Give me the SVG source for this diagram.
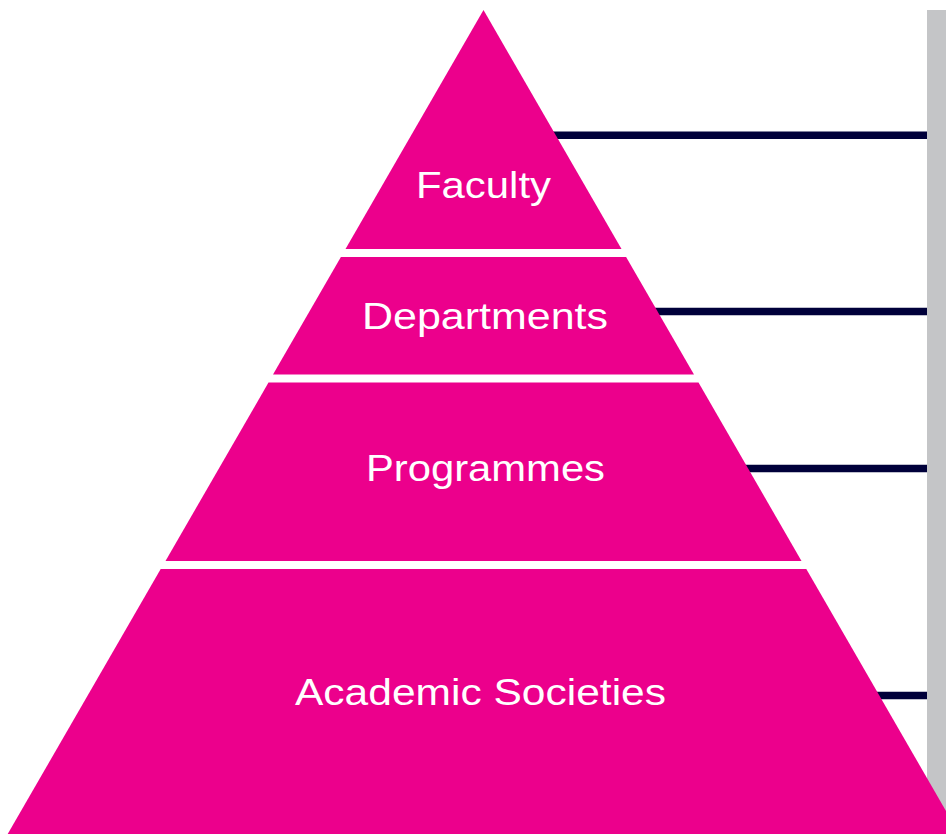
<svg xmlns="http://www.w3.org/2000/svg" width="946" height="834" viewBox="0 0 946 834">
  <style>
    .tier { fill: #EC008C; }
    .label { fill: #FFFFFF; font-family: "Liberation Sans", Arial, sans-serif; font-size: 36px; text-anchor: middle; }
    .link { stroke: #00003A; stroke-width: 7.5; fill: none; }
  </style>
  <rect width="946" height="834" fill="#FFFFFF"/>
  <!-- vertical bar on the right -->
  <rect id="side-bar" x="927" y="10" width="19" height="824" fill="#C4C5C7"/>
  <!-- horizontal connectors from each tier to the bar -->
  <g id="connectors">
    <line class="link" x1="484" y1="135.3" x2="927" y2="135.3"/>
    <line class="link" x1="484" y1="311.5" x2="927" y2="311.5"/>
    <line class="link" x1="484" y1="468.5" x2="927" y2="468.5"/>
    <line class="link" x1="484" y1="695.5" x2="927" y2="695.5"/>
  </g>
  <g id="faculty">
    <polygon class="tier" points="483.5,10 621.5,249 345.5,249"/>
    <text class="label" x="483.5" y="198" textLength="135" lengthAdjust="spacingAndGlyphs">Faculty</text>
  </g>
  <g id="departments">
    <polygon class="tier" points="340.9,257 626.1,257 694,374.5 273,374.5"/>
    <text class="label" x="485" y="328.5" textLength="246" lengthAdjust="spacingAndGlyphs">Departments</text>
  </g>
  <g id="programmes">
    <polygon class="tier" points="268.5,382.5 698.5,382.5 801.5,561 165.5,561"/>
    <text class="label" x="485.5" y="481" textLength="239" lengthAdjust="spacingAndGlyphs">Programmes</text>
  </g>
  <g id="academic-societies">
    <polygon class="tier" points="160.7,569 806.3,569 959.3,834 7.7,834"/>
    <text class="label" x="480.5" y="705" textLength="371" lengthAdjust="spacingAndGlyphs">Academic Societies</text>
  </g>
</svg>
